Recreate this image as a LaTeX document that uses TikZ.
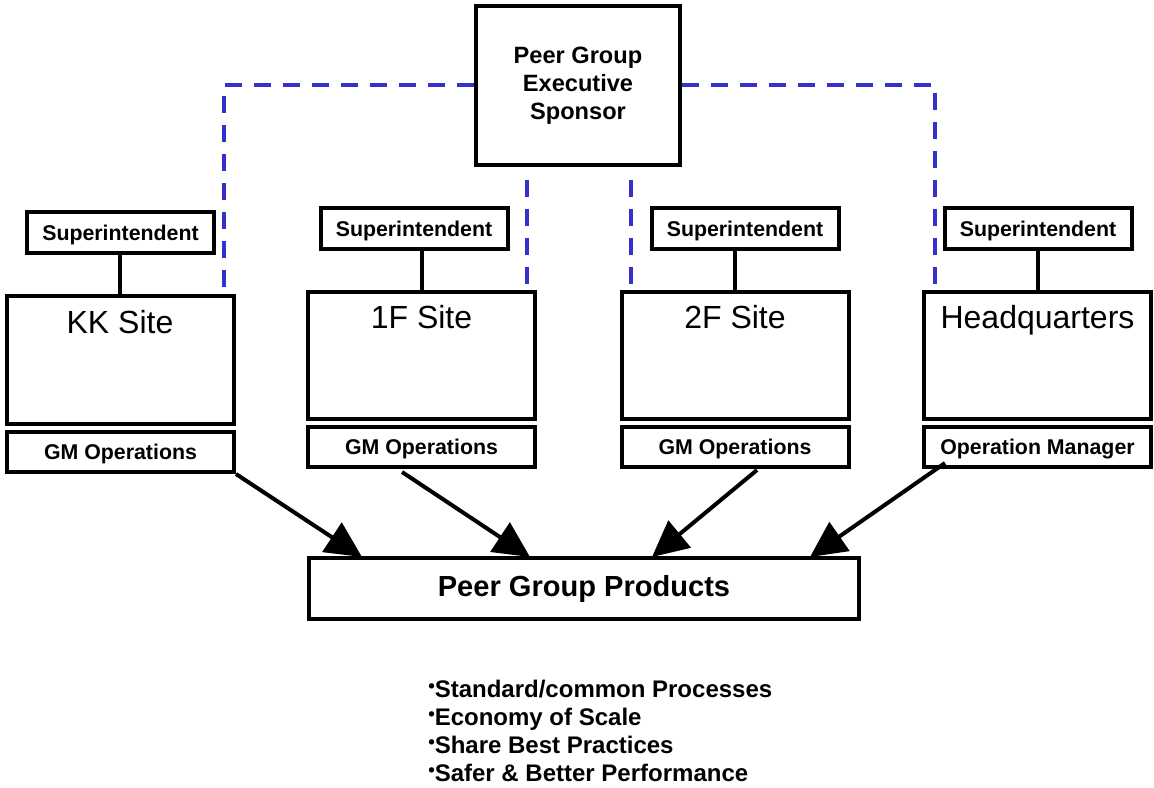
\documentclass[tikz,border=0pt]{standalone}
\usepackage{fontspec}
\setmainfont{Liberation Sans}
\usepackage{tikz}
\usetikzlibrary{arrows.meta}
\usepackage{xcolor}
\definecolor{LinkBlue}{RGB}{51,51,204}
\tikzstyle{SponsorBox}=[draw,line width=3pt,inner sep=0pt,minimum width=153pt,minimum height=119.25pt,
align=center,font=\fontsize{17.7}{21}\selectfont\bfseries]
\tikzstyle{SiteBox}=[draw,line width=3pt,inner sep=0pt,minimum width=170.25pt,text height=27.75pt,
text depth=67.5pt,font=\fontsize{24}{28}\selectfont]
\tikzstyle{SuperBox}=[draw,line width=3pt,inner sep=0pt,minimum width=140.25pt,minimum height=30.75pt,
text height=11.5pt,text depth=0pt,font=\fontsize{16}{19}\selectfont\bfseries]
\tikzstyle{ManagerBox}=[SuperBox,minimum width=170.25pt,minimum height=30pt]
\tikzstyle{ProductBox}=[draw,line width=3pt,inner sep=0pt,minimum width=412.5pt,minimum height=45.75pt,
font=\fontsize{21.8}{26}\selectfont\bfseries]
\tikzstyle{ListText}=[inner sep=0pt,align=left,font=\fontsize{18}{21}\selectfont\bfseries]
\tikzstyle{Tie}=[line width=3pt]
\tikzstyle{SponsorLink}=[LinkBlue,line width=3pt,dash pattern=on 12.75pt off 9pt]
\tikzstyle{Feed}=[line width=3pt,-{Triangle[length=27pt,width=26pt]}]
\newcommand{\Bul}{{\fontsize{14}{14}\selectfont\raisebox{4pt}{\textbullet}}}

\begin{document}
\begin{tikzpicture}[x=0.75pt,y=-0.75pt]
        \useasboundingbox(0,0)rectangle(1154,788);
        % sponsor and sites
        \node[SponsorBox](sponsor)at(578,85.5){Peer Group\\Executive\\Sponsor};
        \node[SuperBox](kksuper)at(120.5,232.5){Superintendent};
        \node[SiteBox](kksite)at(120,360){KK Site};
        \node[ManagerBox](kkgm)at(120.5,452){GM Operations};
        \node[SuperBox](ofsuper)at(414,228.5){Superintendent};
        \node[SiteBox](ofsite)at(421.5,355.5){1F Site};
        \node[ManagerBox](ofgm)at(421.5,447){GM Operations};
        \node[SuperBox](tfsuper)at(745,228.5){Superintendent};
        \node[SiteBox](tfsite)at(735,355.5){2F Site};
        \node[ManagerBox](tfgm)at(735,447){GM Operations};
        \node[SuperBox](hqsuper)at(1038,228.5){Superintendent};
        \node[SiteBox](hqsite)at(1037.5,355.5){Headquarters};
        \node[ManagerBox](hqgm)at(1037.5,447){Operation Manager};
        \node[ProductBox](products)at(584,588.5){Peer Group Products};
        \node[ListText,anchor=west](gains)at(428,731){\Bul Standard/common Processes\\
            \Bul Economy of Scale\\\Bul Share Best Practices\\\Bul Safer \& Better Performance};
        % superintendent ties
        \draw[Tie](kksite.north)--(kksite.north|-kksuper.south);
        \draw[Tie](ofsite.north)--(ofsite.north|-ofsuper.south);
        \draw[Tie](tfsite.north)--(tfsite.north|-tfsuper.south);
        \draw[Tie](hqsite.north)--(hqsite.north|-hqsuper.south);
        % sponsor links
        \coordinate(kkdash)at(224,296);
        \coordinate(hqdash)at(935,292);
        \coordinate(ofdashtop)at(527,180);
        \coordinate(ofdash)at(527,287);
        \coordinate(tfdashtop)at(631,180);
        \coordinate(tfdash)at(631,287);
        \draw[SponsorLink](sponsor.west)-|(kkdash);
        \draw[SponsorLink](sponsor.east)-|(hqdash);
        \draw[SponsorLink](ofdashtop)--(ofdash);
        \draw[SponsorLink](tfdashtop)--(tfdash);
        % feeds into products
        \coordinate(offrom)at(402,472);
        \coordinate(tffrom)at(757,470);
        \coordinate(hqfrom)at(945,463);
        \coordinate(kkto)at(362,557);
        \coordinate(ofto)at(530,557);
        \coordinate(tfto)at(652,557);
        \coordinate(hqto)at(810,557);
        \draw[Feed](kkgm.south east)--(kkto);
        \draw[Feed](offrom)--(ofto);
        \draw[Feed](tffrom)--(tfto);
        \draw[Feed](hqfrom)--(hqto);
    \end{tikzpicture}
\end{document}
